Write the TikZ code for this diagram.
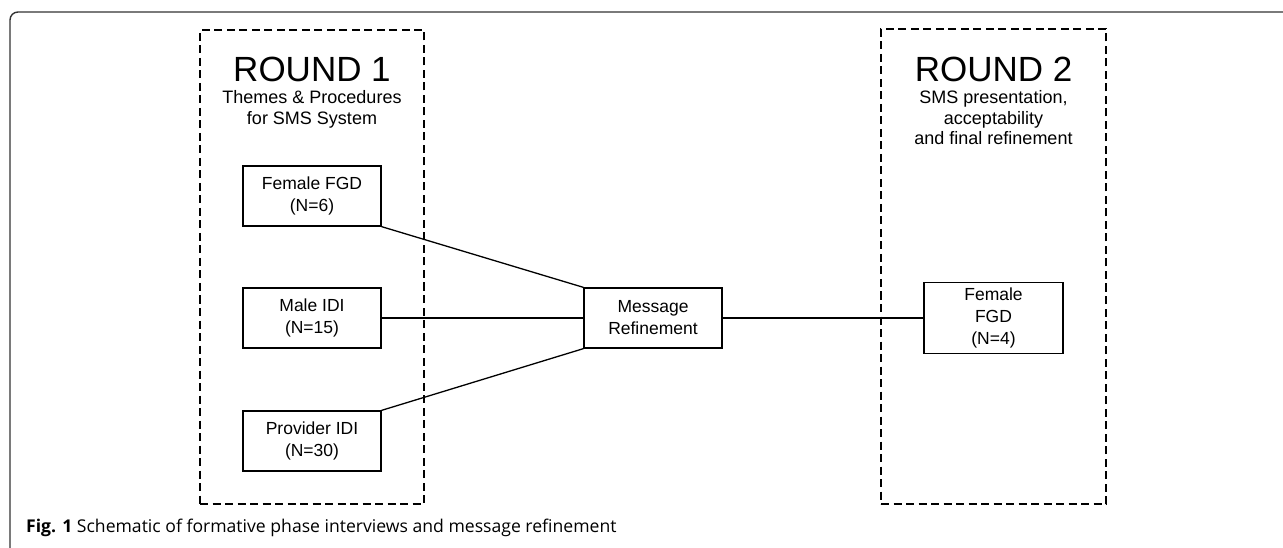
\documentclass[tikz,border=0pt]{standalone}
\usepackage{fontspec}
\setmainfont{Liberation Sans}
\newfontfamily\capfont{Open Sans}
\usetikzlibrary{positioning}

\begin{document}
\begin{tikzpicture}[
    x=1pt, y=-1pt,
    roundbox/.style={draw, dash pattern=on 8pt off 4.5pt, line width=1.4pt, inner sep=0pt},
    title/.style={font=\fontsize{35}{40}\selectfont, anchor=base, inner sep=0pt},
    subtitle/.style={font=\fontsize{18}{20.5}\selectfont, align=center, inner sep=0pt},
    box/.style={draw, line width=1.3pt, align=center, minimum width=138pt, minimum height=60pt,
        inner sep=0pt, font=\fontsize{17.5}{22}\selectfont},
    link/.style={line width=1.3pt}
]
\useasboundingbox (0,0) rectangle (1283,548);
% outer frame
\draw[line width=1.4pt, black!80, rounded corners=8pt] (10,548) -- (10,12) -- (1283,12);

% round 1
\node[roundbox, minimum width=224pt, minimum height=474pt] (r1) at (312,267) {};
\node[title] (t1) at (312,82) {ROUND 1};
\node[subtitle, below=8pt of t1] (s1) {Themes \& Procedures\\for SMS System};
\node[box] (fgd) at (312,196) {Female FGD\\(N=6)};
\node[box] (idi) at (312,318) {Male IDI\\(N=15)};
\node[box] (prov) at (312,441) {Provider IDI\\(N=30)};

% refinement
\node[box] (msg) at (653,318) {Message\\Refinement};

% round 2
\node[roundbox, minimum width=225pt, minimum height=475pt] (r2) at (993.5,266.5) {};
\node[title] (t2) at (993.5,82) {ROUND 2};
\node[subtitle, below=8pt of t2] (s2) {SMS presentation,\\acceptability\\and final refinement};
\node[box, minimum width=139pt, minimum height=71pt] (fgd2) at (993.5,318) {Female\\FGD\\(N=4)};

\draw[link] (fgd.south east) -- (msg.north west);
\draw[link] (idi) -- (msg);
\draw[link] (prov.north east) -- (msg.south west);
\draw[link] (msg) -- (fgd2);

% caption
\node[anchor=base west, inner sep=0pt, font=\capfont\fontsize{17.6}{20}\selectfont] (cap) at (26,532)
    {\textbf{Fig. 1} Schematic of formative phase interviews and message refinement};
\end{tikzpicture}
\end{document}
